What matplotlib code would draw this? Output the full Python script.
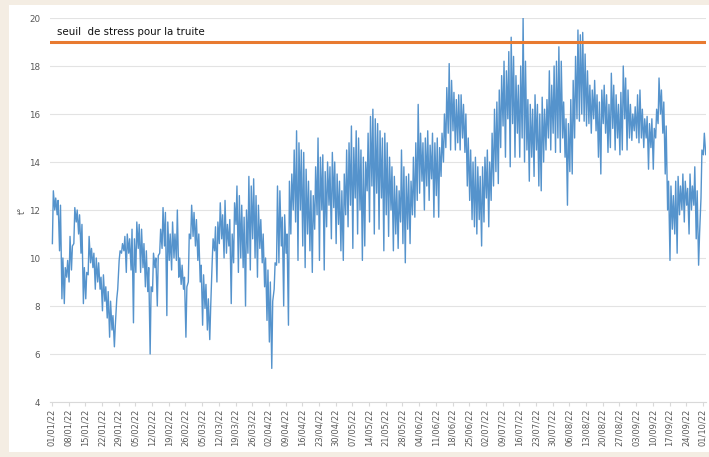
import matplotlib.pyplot as plt
import matplotlib.patches as patches
import numpy as np
import pandas as pd

# temperature de l'eau, valeurs journalieres (max / min)
t_haut = [
    12.8, 12.5, 12.4, 12.2, 10.0, 9.6, 9.9,
    10.9, 10.5, 12.1, 12.0, 11.8, 11.4, 9.6,
    9.4, 10.9, 10.4, 10.2, 10.0, 9.8, 9.2,
    9.3, 8.8, 8.6, 8.2, 7.6, 7.2, 8.7,
    10.3, 10.6, 10.9, 11.0, 10.8, 11.2, 10.8,
    11.5, 11.4, 11.2, 10.6, 10.3, 9.6, 8.8,
    10.2, 10.0, 10.1, 11.2, 12.1, 11.9, 11.5,
    11.0, 11.5, 11.0, 12.0, 10.0, 9.7, 9.2,
    8.8, 11.0, 12.2, 11.9, 11.6, 11.0, 9.7,
    9.3, 8.9, 8.3, 8.0, 10.8, 11.3, 11.5,
    12.3, 11.8, 12.4, 11.4, 11.6, 11.0, 12.3,
    13.0, 12.6, 12.2, 11.7, 12.0, 13.4, 13.0,
    13.3, 12.6, 12.2, 11.6, 11.0, 10.0, 9.5,
    9.0, 8.2, 9.8, 13.0, 12.8, 11.7, 11.8,
    11.0, 13.2, 13.5, 14.5, 15.3, 14.8, 14.5,
    14.4, 13.7, 13.2, 12.8, 12.6, 13.8, 15.0,
    14.2, 14.3, 13.6, 14.0, 13.8, 14.4, 14.0,
    13.5, 13.2, 12.8, 13.5, 14.5, 14.8, 15.5,
    14.6, 15.3, 15.0, 14.5, 14.2, 14.0, 15.2,
    15.9, 16.2, 15.8, 15.6, 15.3, 15.0, 15.2,
    14.8, 14.2, 13.8, 13.4, 13.0, 12.8, 14.5,
    13.8, 13.4, 13.5, 13.2, 14.2, 14.8, 16.4,
    15.2, 14.8, 15.0, 15.3, 14.7, 15.2, 14.8,
    15.0, 14.6, 15.2, 16.0, 17.1, 18.1, 17.4,
    16.9, 16.6, 16.8, 16.8, 16.4, 16.0, 15.0,
    14.5, 14.0, 14.2, 13.8, 13.4, 13.8, 14.2,
    14.5, 14.0, 15.2, 16.2, 16.5, 17.0, 17.6,
    18.2, 17.8, 18.6, 19.2, 18.4, 17.6, 17.2,
    18.0, 20.0, 18.2, 16.6, 16.4, 16.2, 16.8,
    16.4, 16.0, 16.7, 16.2, 16.6, 17.8, 17.2,
    18.0, 18.2, 18.8, 18.2, 16.5, 15.8, 15.6,
    16.6, 17.4, 18.4, 19.5, 19.3, 19.4, 18.5,
    17.8, 17.2, 17.0, 17.4, 16.8, 16.5, 17.0,
    17.2, 16.8, 16.4, 17.7, 17.2, 16.8, 16.4,
    16.9, 18.0, 17.5, 17.0, 16.4, 16.0, 16.3,
    16.8, 17.0, 16.2, 15.8, 15.9, 15.6, 15.8,
    15.4, 16.2, 17.5, 17.0, 16.5, 15.5, 13.2,
    13.0, 12.6, 13.2, 13.4, 13.0, 13.5, 13.2,
    12.9, 13.5, 13.0, 13.8, 12.8, 11.0, 14.5,
    15.2, 14.6,
]
t_bas = [
    10.6, 12.0, 11.8, 10.3, 8.3, 8.1, 9.2,
    9.0, 9.5, 10.6, 11.5, 11.0, 10.2, 8.1,
    8.3, 9.3, 9.8, 9.6, 8.7, 9.0, 8.7,
    7.8, 8.2, 7.5, 6.7, 7.0, 6.3, 8.3,
    9.9, 10.2, 10.3, 9.4, 10.2, 9.5, 7.3,
    9.4, 10.4, 9.4, 9.6, 8.8, 8.6, 6.0,
    8.6, 9.6, 8.0, 10.2, 10.4, 10.5, 7.6,
    9.9, 9.5, 10.0, 9.9, 9.2, 8.9, 8.7,
    6.7, 9.0, 10.8, 10.9, 10.5, 9.9, 9.0,
    7.2, 7.9, 7.0, 6.6, 9.8, 10.3, 9.0,
    10.6, 10.8, 10.0, 10.2, 10.5, 8.1, 9.8,
    11.4, 9.4, 10.0, 9.6, 8.0, 10.2, 9.5,
    10.8, 10.0, 9.2, 10.4, 9.8, 8.8, 7.4,
    6.5, 5.4, 8.7, 9.7, 9.8, 10.5, 8.0,
    10.2, 7.2, 11.0, 12.0, 11.5, 9.9, 12.0,
    10.5, 9.6, 11.0, 10.3, 9.4, 11.2, 11.8,
    9.9, 12.0, 9.5, 11.3, 12.2, 10.8, 12.1,
    10.6, 11.4, 10.3, 9.9, 11.8, 11.3, 12.2,
    10.4, 12.5, 11.0, 12.0, 9.9, 10.5, 12.8,
    11.5, 13.0, 11.0, 12.7, 11.2, 12.5, 10.3,
    11.8, 10.9, 12.0, 10.3, 11.0, 10.4, 11.5,
    10.6, 9.8, 11.2, 10.6, 11.8, 11.7, 12.4,
    12.7, 13.2, 12.0, 13.0, 12.4, 13.3, 11.7,
    12.6, 11.7, 13.4, 14.0, 14.6, 15.2, 14.5,
    15.3, 14.5, 14.8, 14.5, 15.0, 14.4, 13.0,
    12.4, 11.6, 11.3, 11.0, 11.6, 10.5, 11.5,
    12.5, 11.3, 12.4, 13.0, 13.6, 13.1, 14.6,
    15.5, 14.2, 15.8, 13.8, 15.6, 14.2, 15.2,
    14.2, 15.0, 14.0, 14.5, 13.2, 14.2, 13.4,
    14.5, 13.0, 12.8, 14.0, 14.5, 15.0, 14.5,
    15.2, 14.4, 15.0, 14.4, 15.0, 14.2, 12.2,
    13.6, 13.5, 15.0, 15.8, 15.7, 16.0, 15.7,
    15.5, 15.6, 15.2, 15.8, 15.3, 14.2, 13.5,
    15.6, 15.2, 14.4, 14.6, 15.4, 14.5, 15.0,
    14.3, 14.5, 15.8, 14.5, 15.0, 14.9, 15.3,
    15.0, 14.8, 15.0, 14.6, 15.0, 13.7, 14.6,
    13.7, 15.0, 15.6, 16.0, 15.2, 13.5, 12.0,
    9.9, 11.2, 11.0, 10.2, 11.8, 12.0, 11.5,
    12.2, 11.0, 12.0, 12.2, 10.8, 9.7, 12.5,
    14.3, 14.3,
]
seuil = 19
seuil_label = "seuil  de stress pour la truite"
dates_ticks = pd.date_range("2022-01-01", "2022-10-01", freq="7D")
tick_labels = [d.strftime("%d/%m/%y") for d in dates_ticks]

# serie : min le matin, max l'apres-midi
jours = np.arange(len(t_haut))
x = np.ravel(np.column_stack([jours + 0.2, jours + 0.6]))
y = np.ravel(np.column_stack([t_bas, t_haut]))

fig = plt.figure(figsize=(7.09, 4.57), dpi=100, facecolor="#f4ede3")
fig.patches.append(patches.Rectangle((9 / 709, 5 / 457), 700 / 709, 447 / 457,
                                     transform=fig.transFigure, facecolor="white",
                                     edgecolor="none", zorder=-5))
ax = fig.add_axes([50 / 709, 55 / 457, 656 / 709, 384 / 457])
ax.set_facecolor("white")

ax.plot(x, y, color="#5593cc", lw=1.0, zorder=3)
ax.axhline(seuil, color="#e87a30", lw=2.2, zorder=4)
ax.text(2, 19.2, seuil_label, fontsize=7.4, color="#111111", va="bottom", ha="left")

ax.set_ylim(4, 20)
ax.set_yticks(range(4, 21, 2))
ax.set_xlim(-0.8, 274.3)
ax.set_xticks([7 * i for i in range(len(tick_labels))])
ax.set_xticklabels(tick_labels, rotation=90, fontsize=6, color="#595959")
ax.tick_params(axis="y", length=0, labelsize=6.3, labelcolor="#595959", pad=7)
ax.tick_params(axis="x", length=3, color="#d9d9d9", pad=2)
ax.grid(axis="y", color="#e3e3e3", lw=0.8, zorder=0)
ax.set_axisbelow(True)
for s in ["top", "right", "left"]:
    ax.spines[s].set_visible(False)
ax.spines["bottom"].set_color("#d9d9d9")
ax.set_ylabel("t°", fontsize=6, color="#595959")
ax.yaxis.set_label_coords(-0.036, 0.5)

fig.savefig("out.png", dpi=100, facecolor=fig.get_facecolor())
